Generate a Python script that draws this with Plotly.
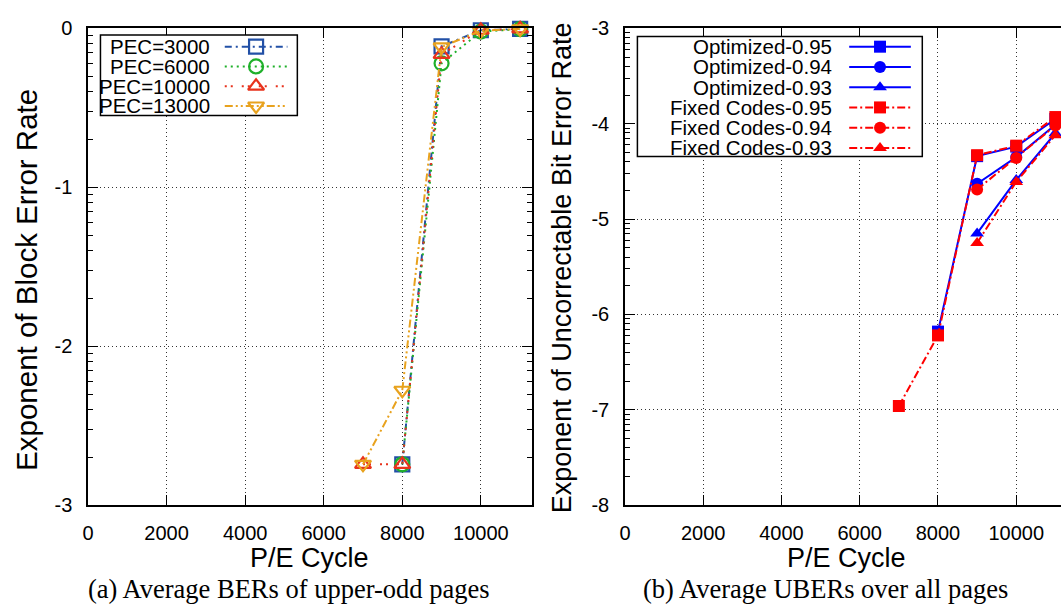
import math
import plotly.graph_objects as go

# ---------------- data ----------------
# (a) exponent of block error rate vs P/E cycle
pec3000_x = [8000, 9000, 10000, 11000]
pec3000_y = [-2.743, -0.113, -0.012, -0.003]
pec6000_x = [8000, 9000, 10000, 11000]
pec6000_y = [-2.743, -0.22, -0.02, -0.005]
pec10000_x = [7000, 8000, 9000, 10000, 11000]
pec10000_y = [-2.743, -2.743, -0.164, -0.012, -0.003]
pec13000_x = [7000, 8000, 9000, 10000, 11000]
pec13000_y = [-2.743, -2.277, -0.117, -0.015, -0.003]

# (b) exponent of uncorrectable bit error rate vs P/E cycle
opt95_x = [8000, 9000, 10000, 11000]
opt95_y = [-6.18, -4.34, -4.24, -3.95]
opt94_x = [9000, 10000, 11000]
opt94_y = [-4.63, -4.35, -4.01]
opt93_x = [9000, 10000, 11000]
opt93_y = [-5.15, -4.59, -4.10]
fix95_x = [7000, 8000, 9000, 10000, 11000]
fix95_y = [-6.96, -6.22, -4.33, -4.23, -3.93]
fix94_x = [9000, 10000, 11000]
fix94_y = [-4.69, -4.36, -4.02]
fix93_x = [9000, 10000, 11000]
fix93_y = [-5.25, -4.61, -4.12]

x_ticks = [0, 2000, 4000, 6000, 8000, 10000]
y_ticks_a = [-3, -2, -1, 0]
y_ticks_b = [-8, -7, -6, -5, -4, -3]

# ---------------- styling ----------------
W, H = 1061, 615
SANS = "Liberation Sans, Arial, sans-serif"
SERIF = "Liberation Serif, Times New Roman, serif"

C_BLUE_A = "#2250a6"
C_GREEN = "#1fb02a"
C_RED_A = "#e8321c"
C_ORANGE = "#e8a21e"
C_BLUE = "#0000ff"
C_RED = "#ff0000"

D_DASHDOT = "7px,4px,2px,4px"
D_DOT = "2px,4px"
D_RDOT = "2px,4px,2px,9px"
D_DDOT = "8px,3px,2px,3px,2px,3px"
D_FIX = "8px,3px,2px,3px"

series_a = [
    ("PEC=3000", pec3000_x, pec3000_y, C_BLUE_A, D_DASHDOT, "square-open"),
    ("PEC=6000", pec6000_x, pec6000_y, C_GREEN, D_DOT, "circle-open"),
    ("PEC=10000", pec10000_x, pec10000_y, C_RED_A, D_RDOT, "triangle-up-open"),
    ("PEC=13000", pec13000_x, pec13000_y, C_ORANGE, D_DDOT, "triangle-down-open"),
]
series_b = [
    ("Optimized-0.95", opt95_x, opt95_y, C_BLUE, "solid", "square"),
    ("Optimized-0.94", opt94_x, opt94_y, C_BLUE, "solid", "circle"),
    ("Optimized-0.93", opt93_x, opt93_y, C_BLUE, "solid", "triangle-up"),
    ("Fixed Codes-0.95", fix95_x, fix95_y, C_RED, D_FIX, "square"),
    ("Fixed Codes-0.94", fix94_x, fix94_y, C_RED, D_FIX, "circle"),
    ("Fixed Codes-0.93", fix93_x, fix93_y, C_RED, D_FIX, "triangle-up"),
]

OPEN_SIZE = 14
FILLED_SIZE = 12

fig = go.Figure()

for name, xs, ys, col, dash, sym in series_a:
    fig.add_trace(go.Scatter(
        x=xs, y=ys, mode="lines+markers", name=name, xaxis="x", yaxis="y",
        line=dict(color=col, width=2, dash=dash),
        marker=dict(symbol=sym, size=OPEN_SIZE, color=col, line=dict(width=2.2, color=col)),
        cliponaxis=False, showlegend=False))

for name, xs, ys, col, dash, sym in series_b:
    fig.add_trace(go.Scatter(
        x=xs, y=ys, mode="lines+markers", name=name, xaxis="x2", yaxis="y2",
        line=dict(color=col, width=2, dash=dash),
        marker=dict(symbol=sym, size=FILLED_SIZE, color=col, line=dict(width=0)),
        cliponaxis=False, showlegend=False))

# ---------------- custom gnuplot-style legends (pixel overlay axis) ----------------
annotations = []
shapes = []

def add_legend(entries, box, text_right, line_x0, line_x1, row0, row_step, filled):
    x0, y0, x1, y1 = box
    shapes.append(dict(type="rect", xref="x3", yref="y3", x0=x0, y0=y0, x1=x1, y1=y1,
                       line=dict(color="black", width=1.5), fillcolor="white", layer="below"))
    for i, (name, xs, ys, col, dash, sym) in enumerate(entries):
        ry = row0 + i * row_step
        annotations.append(dict(xref="x3", yref="y3", x=text_right, y=ry, text=name,
                                showarrow=False, xanchor="right", yanchor="middle",
                                font=dict(family=SANS, size=20.5, color="black")))
        fig.add_trace(go.Scatter(
            x=[line_x0, line_x1], y=[ry, ry], mode="lines", xaxis="x3", yaxis="y3",
            line=dict(color=col, width=2, dash=dash), showlegend=False, hoverinfo="skip",
            cliponaxis=False))
        fig.add_trace(go.Scatter(
            x=[(line_x0 + line_x1) / 2], y=[ry], mode="markers", xaxis="x3", yaxis="y3",
            marker=dict(symbol=sym, size=OPEN_SIZE if not filled else FILLED_SIZE, color=col,
                        line=dict(width=2.2 if not filled else 0, color=col)),
            showlegend=False, hoverinfo="skip", cliponaxis=False))

add_legend(series_a, (95, 25, 293, 108.5), 207, 220, 283, 37, 20.5, False)
add_legend(series_b, (635, 26.5, 921.5, 151), 833, 848, 910, 37, 21, True)

# ---------------- titles / captions ----------------
def ann(x, y, text, size, family=SANS, angle=0):
    annotations.append(dict(xref="x3", yref="y3", x=x, y=y, text=text, showarrow=False,
                            xanchor="center", yanchor="middle", textangle=angle,
                            font=dict(family=family, size=size, color="black")))

ann(305, 567, "P/E Cycle", 27)
ann(845, 567, "P/E Cycle", 27)
ann(20, 279, "Exponent of Block Error Rate", 29.5, angle=-90)
ann(560, 266, "Exponent of Uncorrectable Bit Error Rate", 27, angle=-90)
ann(285, 599, "(a) Average BERs of upper-odd pages", 26.5, family=SERIF)
ann(824, 599, "(b) Average UBERs over all pages", 26.5, family=SERIF)

# ---------------- axes ----------------
def minor_vals(lo, hi):
    return [e + math.log10(k) for e in range(lo, hi) for k in range(2, 10)]

common_x = dict(
    tickvals=x_ticks, ticktext=[str(v) for v in x_ticks], ticks="inside", ticklen=10,
    tickwidth=1, tickcolor="black", showline=True, linewidth=1.5, linecolor="black",
    mirror="ticks", showgrid=True, gridcolor="#333", gridwidth=1, griddash="1px,3px",
    zeroline=False, tickfont=dict(family=SANS, size=20, color="black"),
    ticklabelstandoff=9,
)
common_y = dict(
    ticks="inside", ticklen=10, tickwidth=1, tickcolor="black", showline=True,
    linewidth=1.5, linecolor="black", showgrid=True, gridcolor="#333", gridwidth=1,
    griddash="1px,3px", zeroline=False, tickfont=dict(family=SANS, size=20, color="black"),
    ticklabelstandoff=10,
)

ybot = 1 - 512.5 / H
ytop = 1 - 18 / H

fig.update_layout(
    width=W, height=H, margin=dict(l=0, r=0, t=0, b=0),
    paper_bgcolor="white", plot_bgcolor="rgba(0,0,0,0)", showlegend=False,
    xaxis=dict(domain=[82.5 / W, 528.9 / W], range=[0, 11300], anchor="y", **common_x),
    yaxis=dict(domain=[ybot, ytop], range=[-3, 0], anchor="x", mirror="ticks",
               tickvals=y_ticks_a, ticktext=[str(v) for v in y_ticks_a],
               minor=dict(tickmode="array", tickvals=minor_vals(-3, 0), ticks="inside",
                          ticklen=5, tickcolor="black", showgrid=False),
               **common_y),
    xaxis2=dict(domain=[622.5 / W, 1.0], range=[0, 11144], anchor="y2", **common_x),
    yaxis2=dict(domain=[ybot, ytop], range=[-8, -3], anchor="x2", mirror=False,
                tickvals=y_ticks_b, ticktext=[str(v) for v in y_ticks_b],
                minor=dict(tickmode="array", tickvals=minor_vals(-8, -3), ticks="inside",
                           ticklen=5, tickcolor="black", showgrid=False),
                **common_y),
    xaxis3=dict(domain=[0, 1], range=[0, W], visible=False, anchor="y3", fixedrange=True),
    yaxis3=dict(domain=[0, 1], range=[H, 0], visible=False, anchor="x3", fixedrange=True),
    annotations=annotations, shapes=shapes,
)

fig.write_html("out.html")
